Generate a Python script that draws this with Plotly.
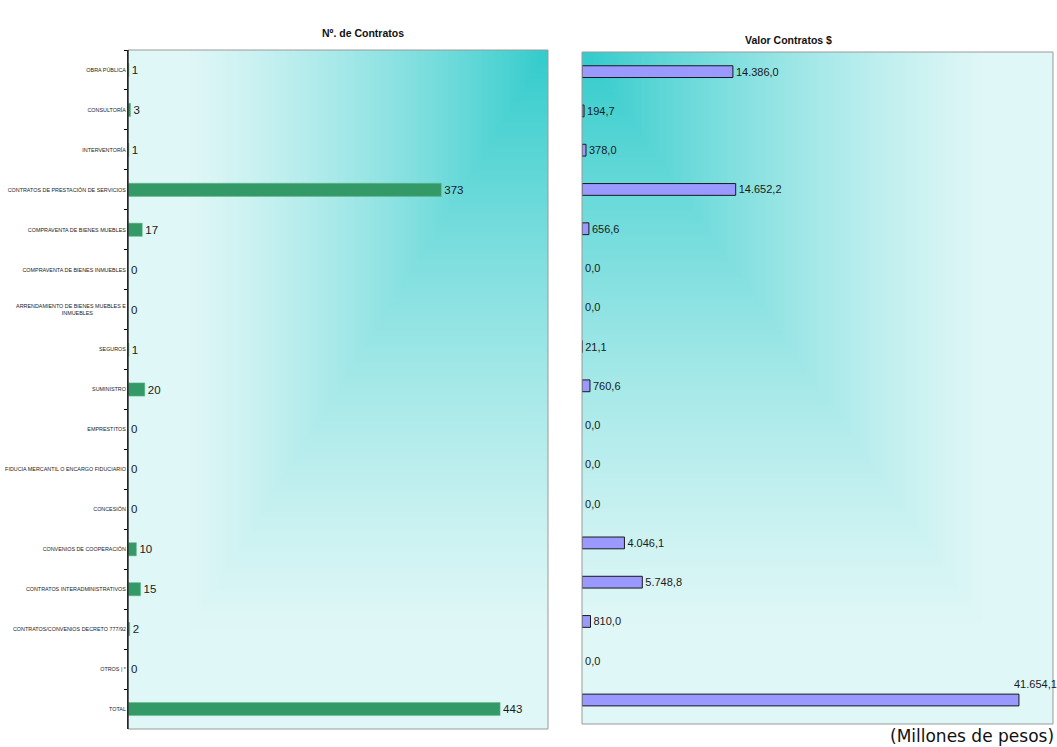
import base64
import struct
import zlib

import plotly.graph_objects as go

# ---------------- data ----------------
categories = [
    "OBRA PÚBLICA",
    "CONSULTORÍA",
    "INTERVENTORÍA",
    "CONTRATOS DE PRESTACIÓN DE SERVICIOS",
    "COMPRAVENTA DE BIENES MUEBLES",
    "COMPRAVENTA DE BIENES INMUEBLES",
    "ARRENDAMIENTO DE BIENES MUEBLES E<br>INMUEBLES" + "\u00a0" * 22,
    "SEGUROS",
    "SUMINISTRO",
    "EMPRESTITOS",
    "FIDUCIA MERCANTIL O ENCARGO FIDUCIARIO",
    "CONCESIÓN",
    "CONVENIOS DE COOPERACIÓN",
    "CONTRATOS INTERADMINISTRATIVOS",
    "CONTRATOS/CONVENIOS DECRETO 777/92",
    "OTROS | *",
    "TOTAL",
]
num_contratos = [1, 3, 1, 373, 17, 0, 0, 1, 20, 0, 0, 0, 10, 15, 2, 0, 443]
valor_contratos = [14386.0, 194.7, 378.0, 14652.2, 656.6, 0.0, 0.0, 21.1, 760.6,
                   0.0, 0.0, 0.0, 4046.1, 5748.8, 810.0, 0.0, 41654.1]

title_left = "Nº. de Contratos"
title_right = "Valor Contratos $"
units_note = "(Millones de pesos)"


def fmt_es(v):
    s = f"{v:,.1f}"
    return s.replace(",", "X").replace(".", ",").replace("X", ".")


# ---------------- background gradient images ----------------
TEAL = (51, 204, 204)
LIGHT = (224, 247, 247)


def gradient_png(w, h, corner_right):
    rows = []
    for j in range(h):
        row = bytearray([0])
        dy = j / (h - 1)
        for i in range(w):
            dx = (w - 1 - i) / (w - 1) if corner_right else i / (w - 1)
            t = max(dx, dy)
            f = min(t / 0.85, 1.0)
            f = f * (2 - f) * 0.35 + f * 0.65
            c = [int(TEAL[k] + (LIGHT[k] - TEAL[k]) * f) for k in range(3)]
            row.extend(c)
        rows.append(bytes(row))
    raw = b"".join(rows)

    def chunk(tag, data):
        c = tag + data
        return struct.pack(">I", len(data)) + c + struct.pack(">I", zlib.crc32(c) & 0xFFFFFFFF)

    png = b"\x89PNG\r\n\x1a\n"
    png += chunk(b"IHDR", struct.pack(">IIBBBBB", w, h, 8, 2, 0, 0, 0))
    png += chunk(b"IDAT", zlib.compress(raw, 9))
    png += chunk(b"IEND", b"")
    return "data:image/png;base64," + base64.b64encode(png).decode()


W, H = 1057, 747
# domains (paper)
lx0, lx1 = 128 / W, 548 / W
ly0, ly1 = 1 - 729 / H, 1 - 50 / H
rx0, rx1 = 582 / W, 1053 / W
ry0, ry1 = 1 - 724 / H, 1 - 52 / H

SANS = "Liberation Sans, Arial, sans-serif"

fig = go.Figure()

fig.add_trace(go.Bar(
    x=num_contratos, y=categories, orientation="h",
    xaxis="x", yaxis="y",
    marker=dict(color="#339966",
                line=dict(color="#66bb8f", width=[0.5 if v else 0 for v in num_contratos])),
    width=0.33,
    text=[str(v) for v in num_contratos],
    textposition="outside", constraintext="none", cliponaxis=False,
    textfont=dict(family=SANS, size=11.5, color="#1a1a1a"),
    hoverinfo="x+y",
))

right_text = [fmt_es(v) for v in valor_contratos]
right_text[-1] = ""
fig.add_trace(go.Bar(
    x=valor_contratos, y=categories, orientation="h",
    xaxis="x2", yaxis="y2",
    marker=dict(color="#9999FF",
                line=dict(color="#1a1a1a", width=[1 if v else 0 for v in valor_contratos])),
    width=0.3,
    text=right_text,
    textposition="outside", constraintext="none", cliponaxis=False,
    textfont=dict(family=SANS, size=11, color="#1a1a1a"),
    hoverinfo="x+y",
))

fig.update_layout(
    width=W, height=H,
    margin=dict(l=0, r=0, t=0, b=0, autoexpand=False),
    paper_bgcolor="white",
    plot_bgcolor="rgba(0,0,0,0)",
    showlegend=False,
    xaxis=dict(domain=[lx0, lx1], range=[0, 500], visible=False, fixedrange=True,
               automargin=False),
    yaxis=dict(domain=[ly0, ly1], autorange="reversed", anchor="x", automargin=False,
               showline=True, linecolor="black", linewidth=1,
               ticks="outside", ticklen=3, tickcolor="black", tickson="boundaries",
               tickfont=dict(family=SANS, size=5.4, color="#222"),
               showgrid=False, zeroline=False),
    xaxis2=dict(domain=[rx0, rx1], range=[0, 44900], visible=False, anchor="y2",
                automargin=False),
    yaxis2=dict(domain=[ry0, ry1], autorange="reversed", anchor="x2", automargin=False,
                showticklabels=False, showgrid=False, zeroline=False, showline=False),
    images=[
        dict(source=gradient_png(140, 226, True), xref="paper", yref="paper",
             x=lx0, y=ly1, sizex=lx1 - lx0, sizey=ly1 - ly0,
             xanchor="left", yanchor="top", sizing="stretch", layer="below"),
        dict(source=gradient_png(156, 224, False), xref="paper", yref="paper",
             x=rx0, y=ry1, sizex=rx1 - rx0, sizey=ry1 - ry0,
             xanchor="left", yanchor="top", sizing="stretch", layer="below"),
    ],
    shapes=[
        dict(type="rect", xref="paper", yref="paper", x0=lx0, x1=lx1, y0=ly0, y1=ly1,
             line=dict(color="#9a9a9a", width=1), layer="above"),
        dict(type="rect", xref="paper", yref="paper", x0=rx0, x1=rx1, y0=ry0, y1=ry1,
             line=dict(color="#9a9a9a", width=1), layer="above"),
        dict(type="line", xref="paper", yref="paper", x0=lx0, x1=lx0, y0=ly0, y1=ly1,
             line=dict(color="black", width=1), layer="above"),
    ],
    annotations=[
        dict(text="<b>" + title_left + "</b>", xref="paper", yref="paper",
             x=320 / W, y=1 - 25 / H, showarrow=False,
             font=dict(family=SANS, size=10.5, color="#111")),
        dict(text="<b>" + title_right + "</b>", xref="paper", yref="paper",
             x=834 / W, y=1 - 32 / H, showarrow=False,
             font=dict(family=SANS, size=10.5, color="#111")),
        dict(text=fmt_es(valor_contratos[-1]), xref="x2", yref="y2",
             x=valor_contratos[-1], y=categories[-1], xanchor="left", yanchor="bottom",
             xshift=-7, yshift=8, showarrow=False,
             font=dict(family=SANS, size=11, color="#1a1a1a")),
        dict(text=units_note, xref="paper", yref="paper",
             x=1055 / W, y=0, xanchor="right", yanchor="bottom",
             showarrow=False, borderpad=0,
             font=dict(family="DejaVu Sans, Verdana, sans-serif", size=17, color="#111")),
    ],
)

fig.write_html(
    "out.html",
    config={"displayModeBar": False},
    post_script="document.body.style.margin='0';document.body.style.overflow='hidden';",
)
